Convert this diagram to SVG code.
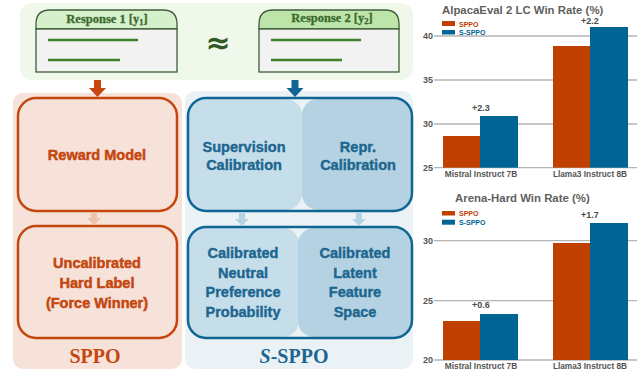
<svg xmlns="http://www.w3.org/2000/svg" width="637" height="372" viewBox="0 0 637 372">
<style>
.tab{stroke:#3d5c37;stroke-width:1.3}
.body{fill:#f2f2f2;stroke:#3d5c37;stroke-width:1.3}
.ln{stroke:#3e7f2a;stroke-width:2.6}
.tabt{font-family:"Liberation Serif",serif;font-weight:bold;font-size:12.5px;fill:#3b6a2c;text-anchor:middle;stroke:#3b6a2c;stroke-width:0.3}
.ot{font-family:"Liberation Sans",sans-serif;font-weight:bold;font-size:14.5px;fill:#c5470f;text-anchor:middle;stroke:#c5470f;stroke-width:0.5}
.bt{font-family:"Liberation Sans",sans-serif;font-weight:bold;font-size:14.5px;fill:#1c6690;text-anchor:middle;stroke:#1c6690;stroke-width:0.4}
.grid{stroke:#b4b4b4;stroke-width:1.3}
.tick{font-family:"Liberation Sans",sans-serif;font-weight:bold;font-size:9px;fill:#555;text-anchor:end}
.xl{font-family:"Liberation Sans",sans-serif;font-weight:bold;font-size:8.3px;fill:#555;text-anchor:middle}
.ttl{font-family:"Liberation Sans",sans-serif;font-weight:bold;font-size:11.4px;fill:#5f5f5f}
.val{font-family:"Liberation Sans",sans-serif;font-weight:bold;font-size:9px;fill:#4a4a4a;text-anchor:middle}
.lg{font-family:"Liberation Sans",sans-serif;font-weight:bold;font-size:7px}
.or{fill:#c04000}
.bl{fill:#006594}
</style>
<rect width="637" height="372" fill="#ffffff"/>

<!-- top responses panel -->
<g id="responses">
<rect x="20" y="3" width="393" height="77" rx="12" fill="#f0f8ec"/>
<g id="response1">
<path class="tab" fill="#d6f0cb" d="M36,29 V24 Q36,10 50,10 H163 Q177,10 177,24 V29 Z"/>
<rect class="body" x="36" y="29" width="141" height="43"/>
<line class="ln" x1="48" y1="40" x2="138" y2="40"/>
<line class="ln" x1="48" y1="60" x2="120" y2="60"/>
<text class="tabt" x="107" y="23">Response 1 [y<tspan font-size="8.5" dy="2">1</tspan><tspan dy="-2">]</tspan></text>
</g>
<g id="response2">
<path class="tab" fill="#bde5aa" d="M259,29 V24 Q259,10 273,10 H385 Q399,10 399,24 V29 Z"/>
<rect class="body" x="259" y="29" width="140" height="43"/>
<line class="ln" x1="271" y1="40" x2="361" y2="40"/>
<line class="ln" x1="271" y1="60" x2="342" y2="60"/>
<text class="tabt" x="332" y="22">Response 2 [y<tspan font-size="8.5" dy="2">2</tspan><tspan dy="-2">]</tspan></text>
</g>
<text x="218" y="53" font-family="DejaVu Sans,sans-serif" font-size="30" font-weight="bold" fill="#2f5b22" text-anchor="middle">≈</text>
</g>

<!-- SPPO panel -->
<g id="sppo">
<rect x="13" y="93" width="169" height="276" rx="10" fill="#f6e2d9"/>
<g id="reward-model">
<rect x="18" y="98" width="159" height="113" rx="18" fill="#f6e2d9" stroke="#c5470f" stroke-width="2.5"/>
<text class="ot" x="97" y="160">Reward Model</text>
</g>
<g id="hard-label">
<rect x="18" y="226" width="159" height="112" rx="18" fill="#f6e2d9" stroke="#c5470f" stroke-width="2.5"/>
<text class="ot" x="97" y="268">Uncalibrated</text>
<text class="ot" x="97" y="288">Hard Label</text>
<text class="ot" x="97" y="308">(Force Winner)</text>
</g>
<text x="95" y="363" font-family="Liberation Serif,serif" font-weight="bold" font-size="20" fill="#c5470f" text-anchor="middle">SPPO</text>
</g>

<!-- S-SPPO panel -->
<g id="s-sppo">
<rect x="185" y="91" width="228" height="278" rx="10" fill="#eaf2f6"/>
<g id="calibration">
<rect x="189" y="99" width="113" height="111" rx="16" fill="#c6deea"/>
<rect x="302" y="99" width="109" height="111" rx="16" fill="#b4d2e1"/>
<rect x="188" y="98" width="224" height="113" rx="18" fill="none" stroke="#0f6695" stroke-width="2.5"/>
<text class="bt" x="244" y="152">Supervision</text>
<text class="bt" x="244" y="170">Calibration</text>
<text class="bt" x="358" y="152">Repr.</text>
<text class="bt" x="358" y="170">Calibration</text>
</g>
<g id="calibrated">
<rect x="189" y="228" width="110" height="109" rx="16" fill="#c6deea"/>
<rect x="298" y="228" width="113" height="109" rx="16" fill="#b4d2e1"/>
<rect x="188" y="227" width="224" height="111" rx="18" fill="none" stroke="#0f6695" stroke-width="2.5"/>
<text class="bt" x="243" y="258">Calibrated</text>
<text class="bt" x="243" y="278">Neutral</text>
<text class="bt" x="243" y="297">Preference</text>
<text class="bt" x="243" y="317">Probability</text>
<text class="bt" x="355" y="258">Calibrated</text>
<text class="bt" x="355" y="278">Latent</text>
<text class="bt" x="355" y="297">Feature</text>
<text class="bt" x="355" y="317">Space</text>
</g>
<text x="294" y="363" font-family="Liberation Serif,serif" font-weight="bold" font-size="20" fill="#1c6690" text-anchor="middle"><tspan font-style="italic">S</tspan>-SPPO</text>
</g>

<!-- connectors -->
<g id="connectors">
<rect x="94" y="80" width="7" height="8" fill="#c5470f"/>
<polygon points="89,88 106,88 97.5,97" fill="#c5470f"/>
<rect x="291.5" y="80" width="7" height="8" fill="#0f6695"/>
<polygon points="286.5,88 303.5,88 295,97" fill="#0f6695"/>
<rect x="91" y="212" width="6" height="6" fill="#ecc2ab"/>
<polygon points="87,218 101,218 94,225" fill="#ecc2ab"/>
<rect x="239" y="212" width="6" height="7" fill="#b4d3e3"/>
<polygon points="235,219 249,219 242,226" fill="#b4d3e3"/>
<rect x="356" y="212" width="6" height="7" fill="#b4d3e3"/>
<polygon points="352,219 366,219 359,226" fill="#b4d3e3"/>
</g>

<!-- chart 1 -->
<g id="chart-alpaca">
<text class="ttl" x="442" y="13.5">AlpacaEval 2 LC Win Rate (%)</text>
<line class="grid" x1="434" y1="36" x2="637" y2="36"/>
<line class="grid" x1="434" y1="80" x2="637" y2="80"/>
<line class="grid" x1="434" y1="124" x2="637" y2="124"/>
<line class="grid" x1="434" y1="167.7" x2="637" y2="167.7"/>
<text class="tick" x="433" y="39">40</text>
<text class="tick" x="433" y="83">35</text>
<text class="tick" x="433" y="127">30</text>
<text class="tick" x="433" y="171">25</text>
<rect class="or" x="443" y="136" width="37" height="31.7"/>
<rect class="bl" x="480" y="116" width="38" height="51.7"/>
<rect class="or" x="553" y="46" width="37" height="121.7"/>
<rect class="bl" x="590" y="27" width="38" height="140.7"/>
<text class="val" x="481" y="111">+2.3</text>
<text class="val" x="590" y="24">+2.2</text>
<text class="xl" x="481" y="177">Mistral Instruct 7B</text>
<text class="xl" x="590" y="177">Llama3 Instruct 8B</text>
<rect class="or" x="442" y="21" width="13" height="5"/>
<rect class="bl" x="442" y="30" width="13" height="4.5"/>
<text class="lg or" x="459" y="26.5">SPPO</text>
<text class="lg bl" x="459" y="35">S-SPPO</text>
</g>

<!-- chart 2 -->
<g id="chart-arena">
<text class="ttl" x="455" y="202">Arena-Hard Win Rate (%)</text>
<line class="grid" x1="434" y1="240.7" x2="637" y2="240.7"/>
<line class="grid" x1="434" y1="300.7" x2="637" y2="300.7"/>
<line class="grid" x1="434" y1="360" x2="637" y2="360"/>
<text class="tick" x="433" y="244">30</text>
<text class="tick" x="433" y="304">25</text>
<text class="tick" x="433" y="363">20</text>
<rect class="or" x="443" y="321" width="37" height="39"/>
<rect class="bl" x="480" y="314" width="38" height="46"/>
<rect class="or" x="553" y="243" width="37" height="117"/>
<rect class="bl" x="590" y="223" width="38" height="137"/>
<text class="val" x="481" y="308">+0.6</text>
<text class="val" x="590" y="217.5">+1.7</text>
<text class="xl" x="481" y="369">Mistral Instruct 7B</text>
<text class="xl" x="590" y="369">Llama3 Instruct 8B</text>
<rect class="or" x="442" y="211" width="13" height="4.5"/>
<rect class="bl" x="442" y="219.7" width="13" height="5"/>
<text class="lg or" x="459" y="216">SPPO</text>
<text class="lg bl" x="459" y="225">S-SPPO</text>
</g>
</svg>
